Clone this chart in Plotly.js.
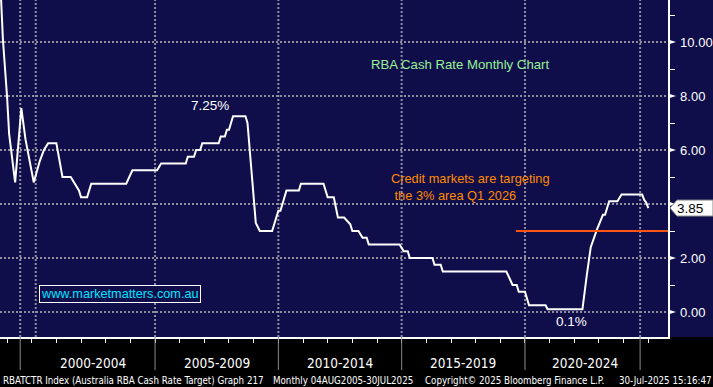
<!DOCTYPE html>
<html>
<head>
<meta charset="utf-8">
<script src="https://cdn.plot.ly/plotly-3.0.1.min.js"></script>
<style>
html,body{margin:0;padding:0;background:#000;}
#chart{width:713px;height:387px;}
</style>
</head>
<body>
<div id="chart"></div>
<script>
// ---- data ----
const dates = ['1998-10','1998-11','1999-01','1999-02','1999-05','1999-08','1999-10','2000-02','2000-05','2000-07',
  '2000-09','2001-01','2001-04','2001-08','2001-12','2002-01','2002-04','2002-06','2003-11','2004-02',
  '2005-02','2005-04','2006-04','2006-05','2006-08','2006-09','2006-11','2006-12','2007-08','2007-09',
  '2007-11','2007-12','2008-01','2008-03','2008-09','2008-10','2009-02','2009-04','2009-10','2010-01',
  '2010-02','2010-05','2010-11','2010-12','2011-11','2012-01','2012-04','2012-06','2012-09','2012-12',
  '2013-01','2013-04','2013-06','2013-08','2013-09','2014-12','2015-02','2015-04','2015-05','2016-04',
  '2016-05','2016-08','2016-09','2019-04','2019-07','2019-09','2019-10','2020-01','2020-03','2020-11',
  '2020-12','2022-05','2022-07','2022-09','2022-12','2023-03','2023-04','2023-06','2023-10','2023-12',
  '2024-10','2024-11','2024-12','2025-01'];
const rates = [11.8,10.1,8.0,6.6,4.8,7.55,6.4,4.8,5.6,6.0,
  6.25,6.25,5.0,5.0,4.5,4.25,4.25,4.75,4.75,5.25,
  5.25,5.5,5.5,5.75,5.75,6.0,6.0,6.25,6.25,6.5,
  6.5,6.75,6.75,7.25,7.25,7.0,3.3,3.0,3.0,3.75,
  3.75,4.5,4.5,4.75,4.75,4.25,4.25,3.5,3.5,3.25,
  3.0,3.0,2.75,2.75,2.5,2.5,2.25,2.25,2.0,2.0,
  1.75,1.75,1.5,1.5,1.0,1.0,0.75,0.75,0.25,0.25,
  0.1,0.1,1.3,2.4,3.05,3.6,3.6,4.1,4.1,4.35,
  4.35,4.15,4.05,3.85];

const periodLabels = ['2000-2004','2005-2009','2010-2014','2015-2019','2020-2024'];
const periodMids = ['2002-07-01','2007-07-01','2012-07-01','2017-07-01','2022-06-01'];
const gridDates = ['1999-07-15','2000-03-01','2005-01-01','2010-01-01','2015-01-01','2020-01-01','2024-09-01'];
const separatorDates = ['1999-07-15','2005-01-01','2010-01-01','2015-01-01','2020-01-01','2024-09-01'];
const yTicks = [0,2,4,6,8,10];
const targetRate = 3.0;
const targetStart = '2019-08-20';
const peakLabel = '7.25%';
const lowLabel = '0.1%';
const chartTitle = 'RBA Cash Rate Monthly Chart';
const noteText = 'Credit markets are targeting<br> the 3% area Q1 2026';
const siteText = 'www.marketmatters.com.au';
const footer = ['RBATCTR Index (Australia RBA Cash Rate Target) Graph 217','Monthly 04AUG2005-30JUL2025','Copyright\u00a9 2025 Bloomberg Finance L.P.','30-Jul-2025 15:16:47'];

// ---- layout helpers ----
const W = 713, H = 387, PW = 668, PH = 337;
const NAVY = '#100e4a';
const GRID = '#8e8e9e';
const fx = px => px / PW;
const fy = py => (PH - py) / PH;
const COND = '"DejaVu Sans Condensed","Liberation Sans Narrow","Arial Narrow",Arial,"Liberation Sans",sans-serif';
const ARIAL = 'Arial,"Liberation Sans",sans-serif';

const last = rates[rates.length-1];

const shapes = [];
// navy backing behind right axis
shapes.push({type:'rect', xref:'paper', yref:'paper', x0:1, x1:W/PW, y0:0, y1:1, fillcolor:NAVY, line:{width:0}, layer:'below'});
// vertical dotted gridlines
gridDates.forEach(d => shapes.push({type:'line', xref:'x', yref:'paper', x0:d, x1:d, y0:0, y1:1,
  line:{color:GRID, width:2, dash:'2px,2px'}, layer:'below'}));
// long separators below axis
separatorDates.forEach(d => shapes.push({type:'line', xref:'x', yref:'paper', x0:d, x1:d, y0:0, y1:fy(370),
  line:{color:'#8a8a8a', width:1}, layer:'above'}));
// target line
shapes.push({type:'line', xref:'x', yref:'y', x0:targetStart, x1:'2025-10-19', y0:targetRate, y1:targetRate,
  line:{color:'#ff5512', width:2}, layer:'above'});
// tick pointers on the right axis
const dy = 2.6/27;
yTicks.forEach(v => shapes.push({type:'path', xref:'paper', yref:'y',
  path:`M 1,${v+dy} L ${fx(676)},${v} L 1,${v-dy} Z`, fillcolor:'white', line:{width:0}, layer:'above'}));
// last value box
const bh = 8/27;
shapes.push({type:'path', xref:'paper', yref:'y',
  path:`M ${fx(670)},${last} L ${fx(677)},${last+bh} L ${fx(713)},${last+bh} L ${fx(713)},${last-bh} L ${fx(677)},${last-bh} Z`,
  fillcolor:'white', line:{color:'#888', width:1}, layer:'above'});

const annotations = [];
periodLabels.forEach((t,i) => annotations.push({text:t, xref:'x', yref:'paper', x:periodMids[i], y:fy(363),
  showarrow:false, font:{family:COND, size:13.5, color:'white'}, xanchor:'center', yanchor:'middle'}));
annotations.push({text:chartTitle, xref:'paper', yref:'paper', x:fx(460), y:fy(64), showarrow:false,
  font:{family:ARIAL, size:13.2, color:'#98f098'}, xanchor:'center', yanchor:'middle'});
annotations.push({text:peakLabel, xref:'paper', yref:'paper', x:fx(209.5), y:fy(105), showarrow:false,
  font:{family:ARIAL, size:13.5, color:'white'}, xanchor:'center', yanchor:'middle'});
annotations.push({text:lowLabel, xref:'paper', yref:'paper', x:fx(571), y:fy(321), showarrow:false,
  font:{family:ARIAL, size:13.5, color:'white'}, xanchor:'center', yanchor:'middle'});
annotations.push({text:noteText, xref:'paper', yref:'paper', x:fx(389), y:fy(186.5), showarrow:false, align:'left',
  font:{family:ARIAL, size:12.8, color:'#ff8a00'}, xanchor:'left', yanchor:'middle'});
annotations.push({text:siteText, xref:'paper', yref:'paper', x:fx(120), y:fy(294), showarrow:false,
  font:{family:ARIAL, size:12.7, color:'#00e4ff'}, xanchor:'center', yanchor:'middle',
  bordercolor:'white', borderwidth:1, borderpad:1, bgcolor:NAVY});
annotations.push({text:last.toFixed(2), xref:'paper', yref:'y', x:fx(690), y:last, showarrow:false,
  font:{family:ARIAL, size:13.5, color:'black'}, xanchor:'center', yanchor:'middle'});
const footX = [2, 272, 424];
footX.forEach((px,i) => annotations.push({text:footer[i], xref:'paper', yref:'paper', x:fx(px), y:fy(380),
  showarrow:false, font:{family:COND, size:9.7, color:'white'}, xanchor:'left', yanchor:'middle', borderpad:0}));
annotations.push({text:footer[3], xref:'paper', yref:'paper', x:W/PW, y:fy(380),
  showarrow:false, font:{family:COND, size:9.7, color:'white'}, xanchor:'right', yanchor:'middle', borderpad:0});

const trace = {x:dates, y:rates, type:'scatter', mode:'lines', line:{color:'white', width:2}, hoverinfo:'skip'};

const layout = {
  width:W, height:H,
  margin:{l:0, r:W-PW, t:0, b:H-PH, pad:0},
  paper_bgcolor:'#000000', plot_bgcolor:NAVY,
  showlegend:false,
  font:{family:ARIAL, color:'white'},
  xaxis:{type:'date', range:['1998-09-19','2025-10-19'], tickmode:'linear', tick0:'1999-01-01', dtick:'M12',
    ticks:'outside', ticklen:4, tickcolor:'white', tickwidth:1, showticklabels:false, showgrid:false,
    zeroline:false, showline:true, linecolor:'white', linewidth:2, fixedrange:true},
  yaxis:{side:'right', range:[-0.926,11.556], tickmode:'array', tickvals:yTicks,
    ticktext:yTicks.map(v => Math.abs(v-last) < 0.6 ? '' : v.toFixed(2)), ticks:'outside', ticklen:8, tickcolor:NAVY,
    tickfont:{family:ARIAL, size:13, color:'white'}, showgrid:true, gridcolor:GRID, gridwidth:2,
    griddash:'2px,2px', zeroline:false, showline:true, linecolor:'white', linewidth:1.5,
    minor:{tickmode:'array', tickvals:[1,3,5,7,9,11], ticks:'outside', ticklen:5, tickcolor:'white', tickwidth:1, showgrid:false},
    fixedrange:true},
  shapes:shapes,
  annotations:annotations
};

Plotly.newPlot('chart', [trace], layout, {staticPlot:true, displayModeBar:false});
</script>
</body>
</html>
